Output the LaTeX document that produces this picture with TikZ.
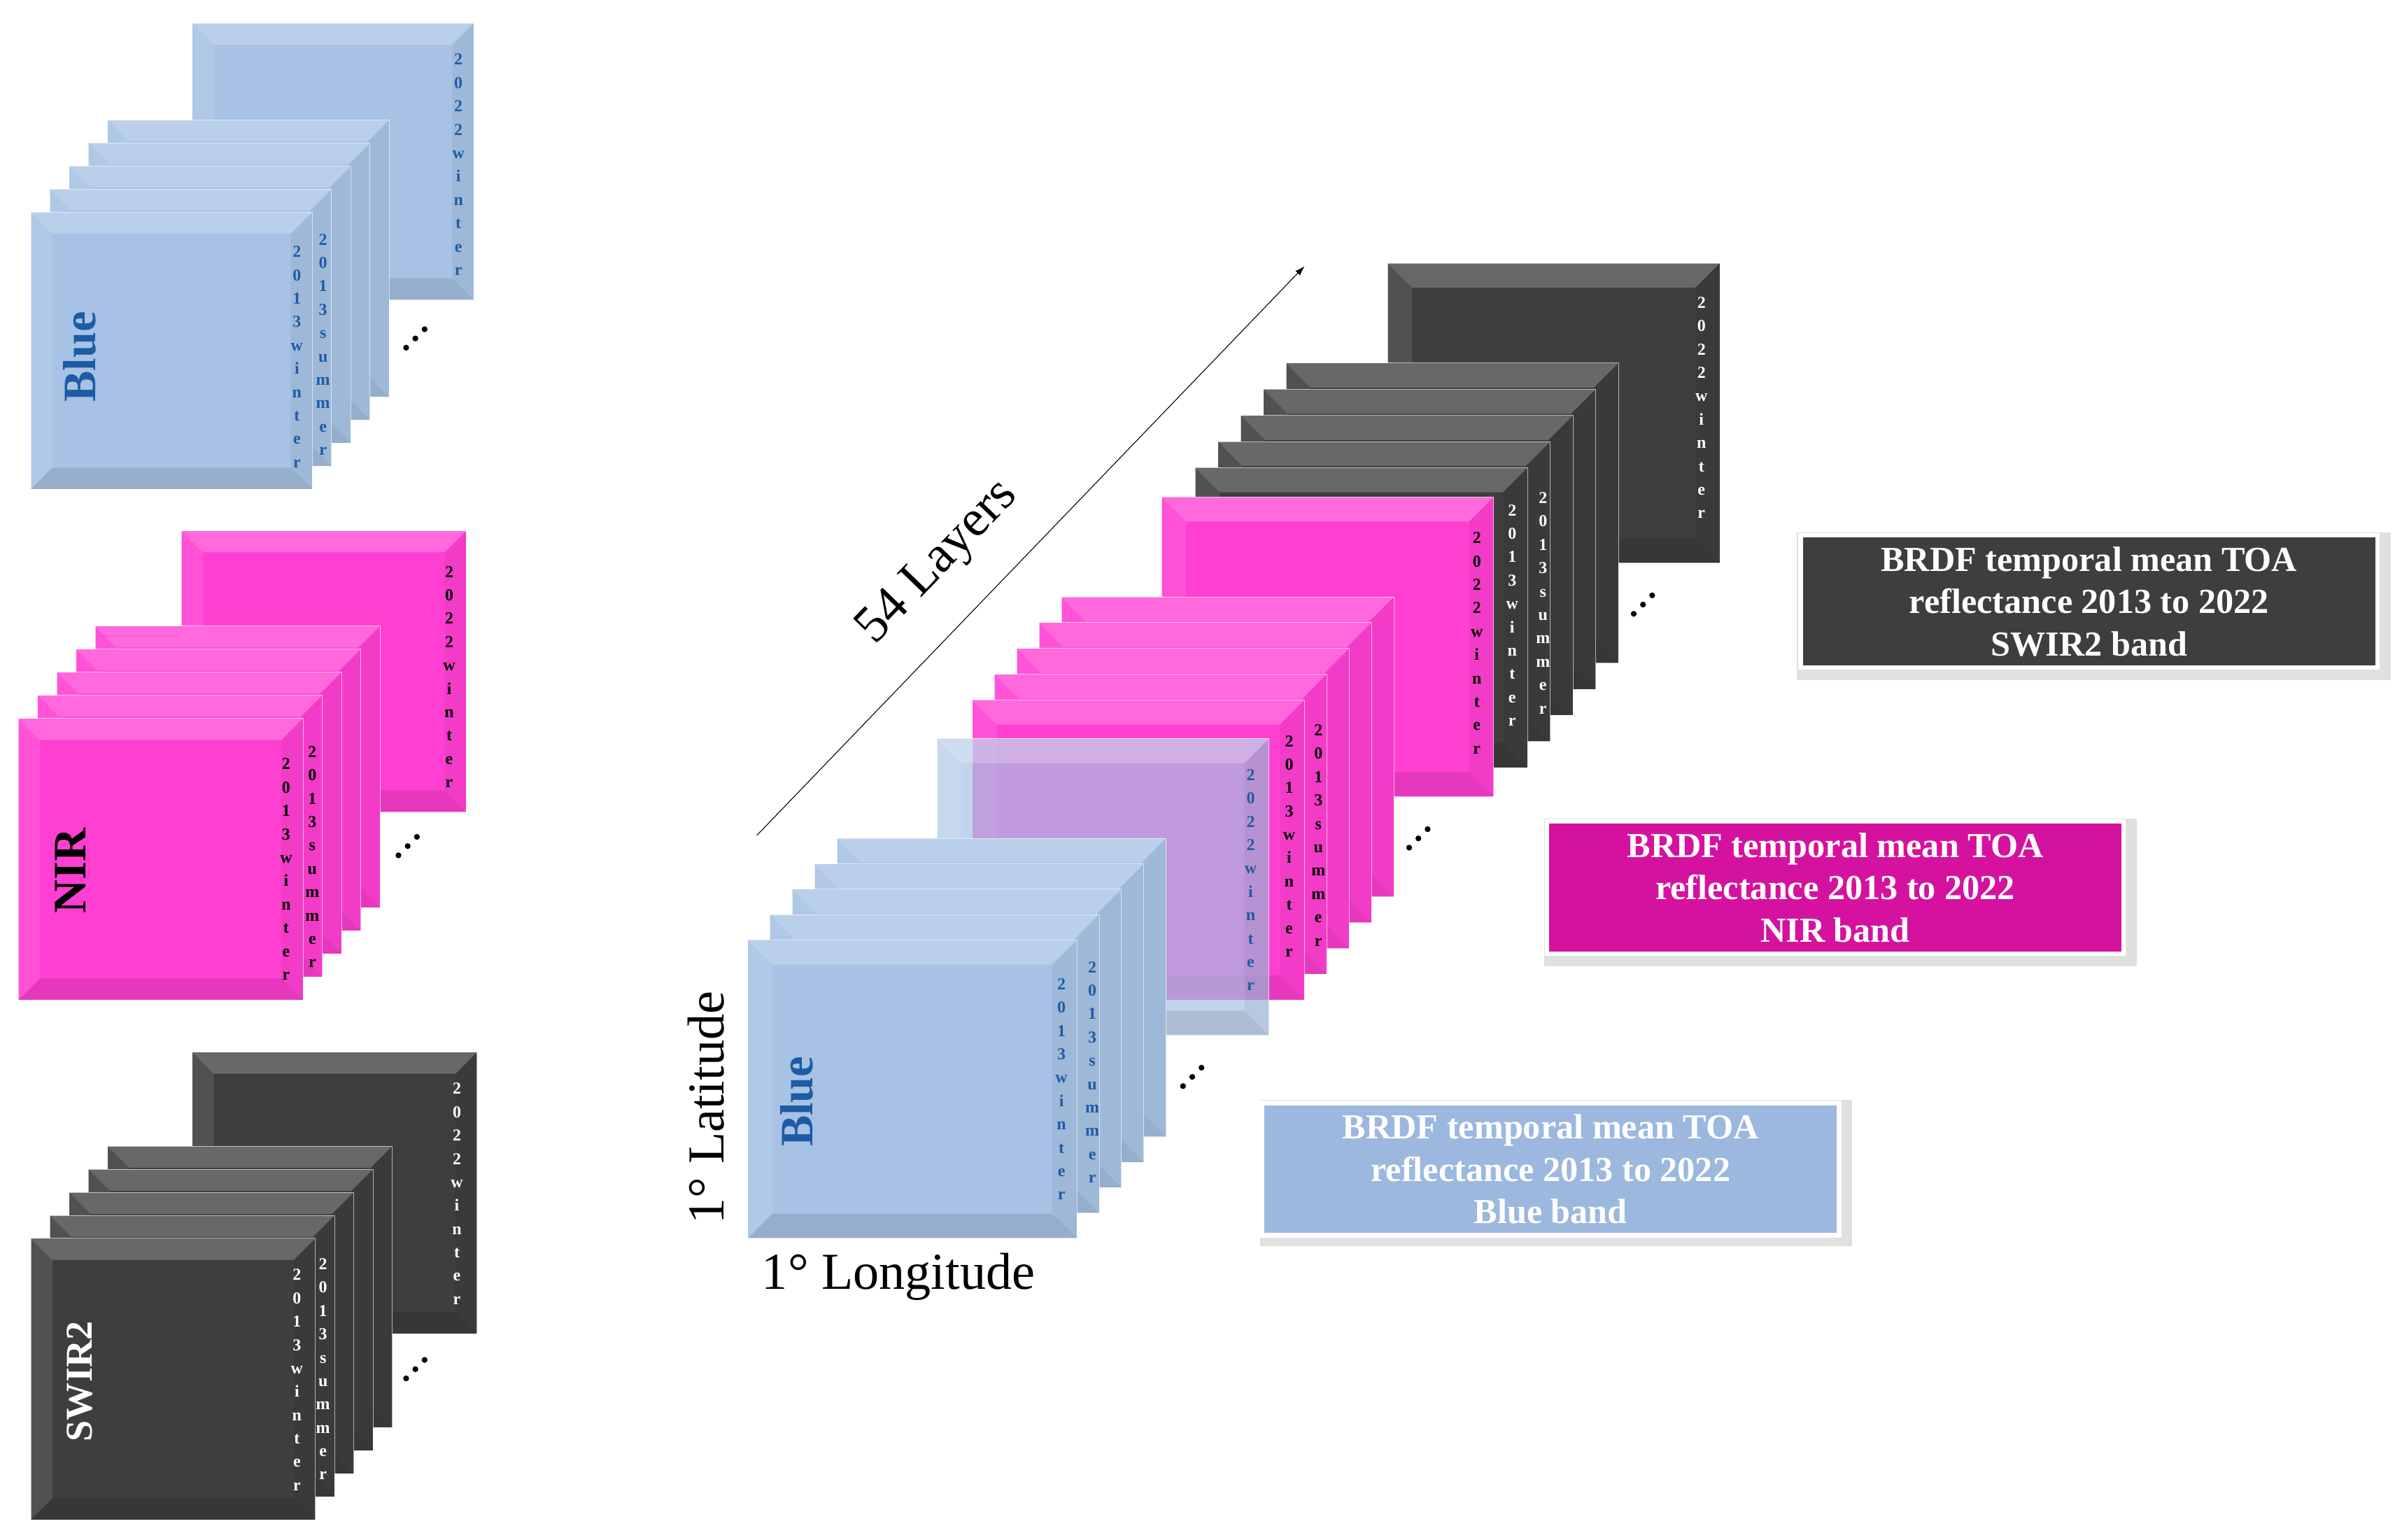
\documentclass[tikz,border=0pt]{standalone}
\usepackage{fontspec}
\usetikzlibrary{arrows.meta}
\newfontfamily\tnr{Liberation Serif}
\definecolor{bluel}{HTML}{A7C2E4}
\definecolor{bluet}{HTML}{1D5CA5}
\definecolor{pinkl}{HTML}{FF3FD2}
\definecolor{darkl}{HTML}{3E3E3E}
\definecolor{nirbox}{HTML}{D5129F}
\definecolor{bluebox}{HTML}{9CB8DE}
\newcommand\lay[6]{%
 \fill[#5] (#1,#2) rectangle ++(#3,#4);
 \fill[white,opacity=.22] (#1,#2) -- ++(#3,0) -- ++(-#6,#6) -- ++({-(#3-2*#6)},0) -- cycle;
 \fill[white,opacity=.1] (#1,#2) -- ++(#6,#6) -- ++(0,{#4-2*#6}) -- ++(-#6,#6) -- cycle;
 \fill[black,opacity=.05] (#1+#3,#2) -- ++(0,#4) -- ++(-#6,-#6) -- ++(0,{-(#4-2*#6)}) -- cycle;
 \fill[black,opacity=.1] (#1,#2+#4) -- ++(#3,0) -- ++(-#6,-#6) -- ++({-(#3-2*#6)},0) -- cycle;
 \draw[white,opacity=.6,line width=0.6pt] (#1,#2) rectangle ++(#3,#4);
}
\newcommand\dts[2]{\foreach \k in {-1,0,1}{\fill (#1+6*\k,#2-6*\k) circle (1.9);}}
\tikzset{
 vt/.style={font=\tnr\bfseries\fontsize{15.5}{21.6}\selectfont, align=center, inner sep=0pt},
 big/.style={font=\tnr\bfseries\fontsize{43}{43}\selectfont, rotate=90, inner sep=0pt},
 lbl/.style={font=\tnr\fontsize{48}{48}\selectfont, inner sep=0pt},
 box/.style={draw=white, line width=4pt, text=white, align=center, minimum width=375*0.05cm, minimum height=86*0.05cm, inner sep=0pt, font=\tnr\bfseries\fontsize{32.5}{39}\selectfont}
}
\newcommand\WI{2\\0\\1\\3\\w\\i\\n\\t\\e\\r}
\newcommand\SU{2\\0\\1\\3\\s\\u\\m\\m\\e\\r}
\newcommand\WT{2\\0\\2\\2\\w\\i\\n\\t\\e\\r}
\begin{document}
\begin{tikzpicture}[x=0.05cm,y=-0.05cm]
\useasboundingbox[fill=white] (0,0) rectangle (1561.4,1001);
% ---------- left Blue stack
\lay{125}{15}{183}{180}{bluel}{14}
\foreach \n in {4,3,2,1,0}{\lay{20+12.5*\n}{138-15*\n}{183}{180}{bluel}{14}}
\node[vt,text=bluet] (lbw) at (193,232) {\WI};
\node[vt,text=bluet] (lbs) at (210,224) {\SU};
\node[vt,text=bluet] (lbt) at (298,107) {\WT};
\node[big,text=bluet] (lbn) at (52,232) {Blue};
\dts{270}{220}
% ---------- left NIR stack
\lay{118}{345}{185}{183}{pinkl}{14}
\foreach \n in {4,3,2,1,0}{\lay{12+12.5*\n}{467-15*\n}{185}{183}{pinkl}{14}}
\node[vt] (lnw) at (186,565) {\WI};
\node[vt] (lns) at (203,557) {\SU};
\node[vt] (lnt) at (292,440) {\WT};
\node[big] (lnn) at (46,566) {NIR};
\dts{265}{550}
% ---------- left SWIR2 stack
\lay{125}{684}{185}{183}{darkl}{14}
\foreach \n in {4,3,2,1,0}{\lay{20+12.5*\n}{805-15*\n}{185}{183}{darkl}{14}}
\node[vt,text=white] (lsw) at (193,897) {\WI};
\node[vt,text=white] (lss) at (210,890) {\SU};
\node[vt,text=white] (lst) at (297,776) {\WT};
\node[big,text=white,font=\tnr\bfseries\fontsize{35}{35}\selectfont] (lsn) at (52,898) {SWIR2};
\dts{270}{890}
% ---------- middle: dark
\lay{902}{171}{216}{195}{darkl}{16}
\foreach \n in {4,3,2,1,0}{\lay{777+14.75*\n}{304-17*\n}{216}{195}{darkl}{16}}
\node[vt,text=white] (mdw) at (983,400) {\WI};
\node[vt,text=white] (mds) at (1003,392) {\SU};
\node[vt,text=white] (mdt) at (1106,265) {\WT};
\dts{1068}{393}
% ---------- middle: pink
\lay{755}{323}{216}{195}{pinkl}{16}
\foreach \n in {4,3,2,1,0}{\lay{632+14.5*\n}{455-16.75*\n}{216}{195}{pinkl}{16}}
\node[vt] (mpw) at (838,550) {\WI};
\node[vt] (mps) at (857,543) {\SU};
\node[vt] (mpt) at (960,418) {\WT};
\dts{922}{545}
% ---------- middle: blue
\lay{609}{480}{216}{193}{bluel,fill opacity=.7}{16}
\foreach \n in {4,3,2,1,0}{\lay{486+14.5*\n}{611-16.5*\n}{214}{194}{bluel}{16}}
\node[vt,text=bluet] (mbw) at (690,708) {\WI};
\node[vt,text=bluet] (mbs) at (710,697) {\SU};
\node[vt,text=bluet] (mbt) at (813,572) {\WT};
\node[big,text=bluet] (mbn) at (518,716) {Blue};
\dts{775}{700}
% ---------- axes
\coordinate (a0) at (492,543);
\coordinate (a1) at (848,173);
\draw[-{Latex[length=9pt,width=6pt]},line width=0.7pt] (a0) -- (a1);
\node[lbl,rotate=46] (lay) at (610,366) {54 Layers};
\node[lbl,rotate=90] (lat) at (459,720) {1° Latitude};
\node[lbl] (lon) at (584,830) {1° Longitude};
% ---------- boxes
\fill[black!12] (1168,346) rectangle (1554,442);
\node[box,fill=darkl] (bs) at (1358,391) {BRDF temporal mean TOA\\reflectance 2013 to 2022\\SWIR2 band};
\fill[black!12] (1004,532) rectangle (1389,628);
\node[box,fill=nirbox] (bn) at (1193,577) {BRDF temporal mean TOA\\reflectance 2013 to 2022\\NIR band};
\fill[black!12] (819,715) rectangle (1204,810);
\node[box,fill=bluebox] (bb) at (1008,760) {BRDF temporal mean TOA\\reflectance 2013 to 2022\\Blue band};
\end{tikzpicture}
\end{document}
